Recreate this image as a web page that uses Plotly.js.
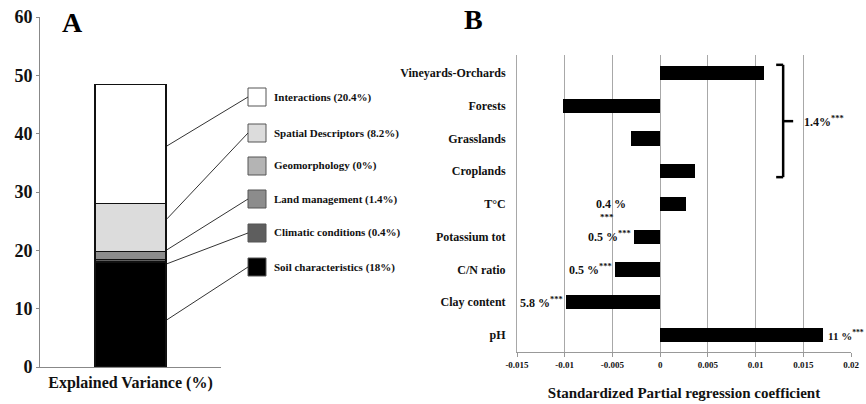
<!DOCTYPE html>
<html>
<head>
<meta charset="utf-8">
<script src="https://cdn.plot.ly/plotly-3.0.1.min.js"></script>
<style>html,body{margin:0;padding:0;background:#fff;}#chart{width:866px;height:404px;}</style>
</head>
<body>
<div id="chart"></div>
<script>
// ---------- Panel A data (stacked explained variance) ----------
const componentsA = ['Soil characteristics', 'Climatic conditions', 'Land management', 'Geomorphology', 'Spatial Descriptors', 'Interactions'];
const variancesA = [18, 0.4, 1.4, 0, 8.2, 20.4];
const legendLabelsA = ['Soil characteristics (18%)', 'Climatic conditions (0.4%)', 'Land management (1.4%)', 'Geomorphology (0%)', 'Spatial Descriptors (8.2%)', 'Interactions (20.4%)'];
const yTicksA = [0, 10, 20, 30, 40, 50, 60];

// ---------- Panel B data (standardized partial regression coefficients) ----------
const predictorsB = ['Vineyards-Orchards', 'Forests', 'Grasslands', 'Croplands', 'T°C', 'Potassium tot', 'C/N ratio', 'Clay content', 'pH'];
const coefficientsB = [0.0109, -0.0102, -0.0031, 0.0037, 0.0027, -0.0027, -0.0047, -0.0099, 0.0171];
const pctLabelsB = ['', '', '', '', '0.4 %', '0.5 %', '0.5 %', '5.8 %', '11 %'];
const landUseGroupLabel = '1.4%';
const xTickValsB = [-0.015, -0.01, -0.005, 0, 0.005, 0.01, 0.015, 0.02];
const xTickTextB = ['-0.015', '-0.01', '-0.005', '0', '0.005', '0.01', '0.015', '0.02'];

// ---------- styles ----------
const SERIF = 'Liberation Serif, Times New Roman, serif';
const fillsA = ['#000000', '#5e5e5e', '#8c8c8c', '#b4b4b4', '#dcdcdc', '#ffffff'];
const W = 866, H = 404;
const px = v => v / W;            // pixel -> paper x
const py = v => 1 - v / H;        // pixel -> paper y

const traces = [];
componentsA.forEach((name, i) => {
  traces.push({
    type: 'bar', x: [0], y: [variancesA[i]], name: name,
    xaxis: 'x', yaxis: 'y', width: 0.785,
    marker: {color: fillsA[i], line: {color: '#111', width: 1.5}},
    showlegend: false, hoverinfo: 'skip'
  });
});
traces.push({
  type: 'bar', orientation: 'h', x: coefficientsB, y: predictorsB,
  xaxis: 'x2', yaxis: 'y2', width: 0.43,
  marker: {color: '#000', line: {width: 0}},
  showlegend: false, hoverinfo: 'skip'
});

const shapes = [];
const annotations = [];

// Panel A legend boxes + labels
const legendCentersPx = [267, 233, 199, 166, 133, 97];
legendLabelsA.forEach((lab, i) => {
  const cy = legendCentersPx[i];
  shapes.push({type: 'rect', xref: 'paper', yref: 'paper',
    x0: px(248), x1: px(266), y0: py(cy + 9), y1: py(cy - 9),
    fillcolor: fillsA[i], line: {color: '#555', width: 1}});
  annotations.push({xref: 'paper', yref: 'paper', x: px(272), y: py(cy),
    xanchor: 'left', yanchor: 'middle', showarrow: false, text: lab,
    font: {family: SERIF, size: 11, color: '#111', weight: 'bold'}});
});
// Panel A connector lines (bar edge -> legend box); geomorphology has none
const connectorStartA = [8.1, 17.7, 20.1, null, 25.4, 37.9];
connectorStartA.forEach((v, i) => {
  if (v === null) return;
  const endVal = (367 - legendCentersPx[i]) / (350 / 60);
  shapes.push({type: 'line', xref: 'paper', yref: 'y',
    x0: px(167), x1: px(248), y0: v, y1: endVal,
    line: {color: '#333', width: 1}});
});

// Panel B labels
const annFont = {family: SERIF, size: 12, color: '#111', weight: 'bold'};
predictorsB.forEach((p, i) => {
  const t = pctLabelsB[i];
  if (!t) return;
  const c = coefficientsB[i];
  if (p === 'T°C') {
    annotations.push({xref: 'x2', yref: 'y2', x: 0, y: p, xanchor: 'right', yanchor: 'middle',
      xshift: -32, showarrow: false, text: t, font: annFont});
    annotations.push({xref: 'x2', yref: 'y2', x: 0, y: p, xanchor: 'center', yanchor: 'middle',
      xshift: -53, yshift: -13, showarrow: false, text: '***', font: {family: SERIF, size: 9, color: '#111', weight: 'bold'}});
  } else if (c < 0) {
    annotations.push({xref: 'x2', yref: 'y2', x: c, y: p, xanchor: 'right', yanchor: 'middle',
      xshift: -1, showarrow: false, text: t + '<sup>***</sup>', font: annFont});
  } else {
    annotations.push({xref: 'x2', yref: 'y2', x: c, y: p, xanchor: 'left', yanchor: 'middle',
      xshift: 3, showarrow: false, text: t + '<sup>***</sup>',
      font: {family: SERIF, size: 11, color: '#111', weight: 'bold'}});
  }
});
annotations.push({xref: 'x2', yref: 'y2', x: 0.01488, y: 1.47, xanchor: 'left', yanchor: 'middle',
  showarrow: false, text: landUseGroupLabel + '<sup>***</sup>', font: annFont});

// Bracket grouping land-use predictors
const bx = 0.01289, bl = 0.01216, br = 0.01394;
const bTop = -0.25, bBot = 3.18, bMid = 1.47;
const bLine = {color: '#000', width: 2.5};
shapes.push({type: 'line', xref: 'x2', yref: 'y2', x0: bx, x1: bx, y0: bTop, y1: bBot, line: bLine});
shapes.push({type: 'line', xref: 'x2', yref: 'y2', x0: bl, x1: bx, y0: bTop, y1: bTop, line: bLine});
shapes.push({type: 'line', xref: 'x2', yref: 'y2', x0: bl, x1: bx, y0: bBot, y1: bBot, line: bLine});
shapes.push({type: 'line', xref: 'x2', yref: 'y2', x0: bx, x1: br, y0: bMid, y1: bMid, line: bLine});

// Panel letters
annotations.push({xref: 'paper', yref: 'paper', x: px(72), y: py(22), showarrow: false, text: 'A',
  xanchor: 'center', yanchor: 'middle', font: {family: SERIF, size: 28, color: '#000', weight: 'bold'}});
annotations.push({xref: 'paper', yref: 'paper', x: px(473), y: py(19), showarrow: false, text: 'B',
  xanchor: 'center', yanchor: 'middle', font: {family: SERIF, size: 28, color: '#000', weight: 'bold'}});

const layout = {
  width: W, height: H, autosize: false,
  margin: {l: 0, r: 0, t: 0, b: 0},
  paper_bgcolor: '#fff', plot_bgcolor: 'rgba(0,0,0,0)',
  barmode: 'stack', showlegend: false,
  font: {family: SERIF, color: '#111'},
  xaxis: {
    domain: [px(40), px(221)], range: [-1, 1], anchor: 'y',
    showticklabels: false, ticks: '', showgrid: false, zeroline: false,
    showline: true, linecolor: '#888', linewidth: 1, fixedrange: true,
    title: {text: 'Explained Variance (%)', standoff: 9,
      font: {family: SERIF, size: 16, color: '#111', weight: 'bold'}}
  },
  yaxis: {
    domain: [py(367), py(17)], range: [0, 60], anchor: 'x',
    tickvals: yTicksA, ticks: 'outside', ticklen: 3, tickcolor: '#888',
    tickfont: {family: SERIF, size: 18, color: '#111', weight: 'bold'},
    showgrid: false, zeroline: false, showline: true, linecolor: '#888', linewidth: 1, fixedrange: true
  },
  xaxis2: {
    domain: [px(517), px(851)], range: [-0.015, 0.02], anchor: 'y2',
    tickvals: xTickValsB, ticktext: xTickTextB, ticks: 'outside', ticklen: 4, tickcolor: '#999',
    tickfont: {family: SERIF, size: 9, color: '#111', weight: 'bold'},
    showgrid: true, gridcolor: '#a8a8a8', gridwidth: 1,
    zeroline: true, zerolinecolor: '#a8a8a8', zerolinewidth: 1,
    showline: true, linecolor: '#999', linewidth: 1, fixedrange: true,
    title: {text: 'Standardized Partial regression coefficient', standoff: 18,
      font: {family: SERIF, size: 15, color: '#111', weight: 'bold'}}
  },
  yaxis2: {
    domain: [py(352), py(55)], type: 'category', categoryorder: 'array', categoryarray: predictorsB,
    range: [8.52, -0.55], anchor: 'x2', ticks: '', ticklabelstandoff: 8,
    tickfont: {family: SERIF, size: 12, color: '#111', weight: 'bold'},
    showgrid: false, zeroline: false, showline: true, linecolor: '#a8a8a8', linewidth: 1, fixedrange: true
  },
  shapes: shapes,
  annotations: annotations
};

Plotly.newPlot('chart', traces, layout, {staticPlot: true, displayModeBar: false});
</script>
</body>
</html>
